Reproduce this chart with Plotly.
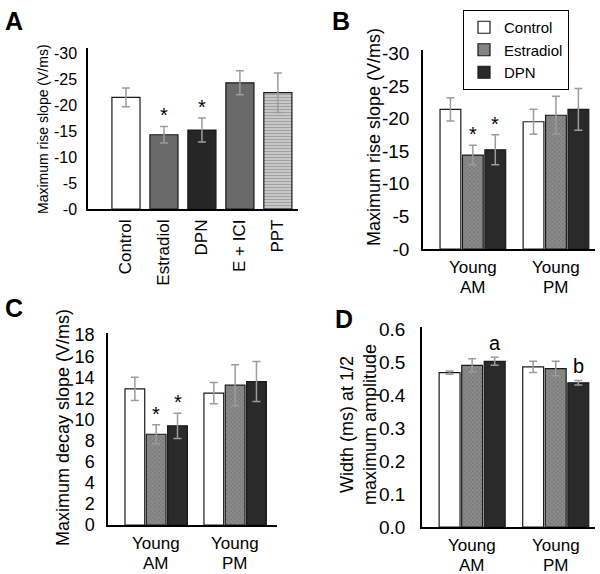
import plotly.graph_objects as go

W, H = 600, 574
FONT = "Liberation Sans, Arial, sans-serif"

# ---------------- data ----------------
# Panel A
a_cats = ["Control", "Estradiol", "DPN", "E + ICI", "PPT"]
a_vals = [-21.5, -14.3, -15.2, -24.3, -22.4]
a_errs = [1.8, 1.6, 2.3, 2.3, 3.8]
a_ticks = [0, -5, -10, -15, -20, -25, -30]
a_ticktext = ["-0", "-5", "-10", "-15", "-20", "-25", "-30"]
a_stars = ["", "*", "*", "", ""]

# Panels B-D
group_line1 = ["Young", "Young"]
group_line2 = ["AM", "PM"]
series = ["Control", "Estradiol", "DPN"]

b_vals = {"Control": [-21.4, -19.5], "Estradiol": [-14.4, -20.5], "DPN": [-15.2, -21.4]}
b_errs = {"Control": [1.8, 1.9], "Estradiol": [1.5, 2.9], "DPN": [2.3, 3.2]}
b_stars = {"Control": ["", ""], "Estradiol": ["*", ""], "DPN": ["*", ""]}
b_ticks = [0, -5, -10, -15, -20, -25, -30]
b_ticktext = ["-0", "-5", "-10", "-15", "-20", "-25", "-30"]

c_vals = {"Control": [12.9, 12.5], "Estradiol": [8.6, 13.25], "DPN": [9.4, 13.6]}
c_errs = {"Control": [1.1, 1.0], "Estradiol": [0.9, 1.95], "DPN": [1.2, 1.9]}
c_stars = {"Control": ["", ""], "Estradiol": ["*", ""], "DPN": ["*", ""]}
c_ticks = [0, 2, 4, 6, 8, 10, 12, 14, 16, 18]

d_vals = {"Control": [0.468, 0.485], "Estradiol": [0.490, 0.480], "DPN": [0.502, 0.437]}
d_errs = {"Control": [0.005, 0.017], "Estradiol": [0.020, 0.022], "DPN": [0.012, 0.007]}
d_marks = {"Control": ["", ""], "Estradiol": ["", ""], "DPN": ["a", "b"]}
d_ticks = [0.0, 0.1, 0.2, 0.3, 0.4, 0.5, 0.6]

# ---------------- styles ----------------
ERR = dict(type="data", color="#9c9c9c", thickness=1.5, width=4)
LINE = dict(color="#1a1a1a", width=1.2)

series_style = {
    "Control": dict(color="white"),
    "Estradiol": dict(color="#7a7a7a",
                      pattern=dict(shape="x", fgcolor="#5a5a5a", bgcolor="#8c8c8c",
                                   size=3, solidity=0.4)),
    "DPN": dict(color="#2a2a2a"),
}
a_styles = [
    dict(color="white"),
    dict(color="#6a6a6a"),
    dict(color="#262626"),
    dict(color="#6a6a6a"),
    dict(color="#c8c8c8", pattern=dict(shape="-", fgcolor="#707070", bgcolor="#d0d0d0",
                                       size=3, solidity=0.45)),
]


def px2x(p):
    return p / W


def px2y(p):
    return 1 - p / H


fig = go.Figure()

# ---------- Panel A ----------
a_x = list(range(len(a_cats)))
for i in range(len(a_cats)):
    fig.add_trace(go.Bar(
        x=[a_x[i]], y=[a_vals[i]], width=0.74, offset=-0.37,
        marker=dict(**a_styles[i], line=LINE),
        error_y=dict(array=[a_errs[i]], **ERR),
        xaxis="x", yaxis="y", showlegend=False))
    if a_stars[i]:
        fig.add_annotation(x=a_x[i], y=a_vals[i] - a_errs[i], xref="x", yref="y",
                           text=a_stars[i], showarrow=False, yanchor="bottom", yshift=-2,
                           font=dict(size=20, family=FONT, color="black"))

# ---------- grouped panels ----------
slot, bw = 0.27, 0.25
panels = [
    # xaxis, yaxis, values, errors, marks, legend, label font, line1 y(px), line2 y(px)
    ("x2", "y2", b_vals, b_errs, b_stars, True, 17, 267, 287),
    ("x3", "y3", c_vals, c_errs, c_stars, False, 17, 543, 563),
    ("x4", "y4", d_vals, d_errs, d_marks, False, 17, 545, 565),
]
for xa, ya, vals, errs, marks, legend, lfs, ly1, ly2 in panels:
    gx = list(range(len(group_line1)))
    for j, s in enumerate(series):
        fig.add_trace(go.Bar(
            x=gx, y=vals[s], name=s,
            width=bw, offset=(j - 1) * slot - bw / 2,
            marker=dict(**series_style[s], line=LINE),
            error_y=dict(array=errs[s], **ERR),
            xaxis=xa, yaxis=ya, showlegend=legend))
        for g in gx:
            m = marks[s][g]
            if m:
                v = vals[s][g]
                top = v - errs[s][g] if v < 0 else v + errs[s][g]
                fig.add_annotation(x=g + (j - 1) * slot, y=top, xref=xa, yref=ya,
                                   text=m, showarrow=False, yanchor="bottom",
                                   yshift=-2 if m == "*" else 1,
                                   font=dict(size=20, family=FONT, color="black"))
    # category labels (two tightly spaced lines)
    for g in gx:
        for txt, ly in ((group_line1[g], ly1), (group_line2[g], ly2)):
            fig.add_annotation(x=g, y=px2y(ly), xref=xa, yref="paper", text=txt,
                               showarrow=False, xanchor="center", yanchor="middle",
                               borderpad=0,
                               font=dict(size=lfs, family=FONT, color="black"))

axis_common = dict(showline=True, linecolor="black", linewidth=1.5, showgrid=False,
                   zeroline=False, ticks="", automargin=False)

layout = dict(
    width=W, height=H, margin=dict(l=0, r=0, t=0, b=0),
    paper_bgcolor="white", plot_bgcolor="white", barmode="overlay",
    font=dict(family=FONT, color="black"),
    # Panel A
    xaxis=dict(domain=[px2x(88), px2x(298)], range=[-1.0, 4.53], anchor="y",
               tickvals=a_x, ticktext=a_cats, tickangle=-90, ticklabelstandoff=2,
               tickfont=dict(size=17), **axis_common),
    yaxis=dict(domain=[px2y(209), px2y(48)], range=[0, -31], anchor="x",
               tickvals=a_ticks, ticktext=a_ticktext, tickfont=dict(size=16),
               ticklabelstandoff=6, **axis_common),
    # Panel B
    xaxis2=dict(domain=[px2x(423), px2x(595)], range=[-0.6, 1.47], anchor="y2",
                showticklabels=False, **axis_common),
    yaxis2=dict(domain=[px2y(249), px2y(50)], range=[0, -30.5], anchor="x2",
                tickvals=b_ticks, ticktext=b_ticktext, tickfont=dict(size=19),
                ticklabelstandoff=8, **axis_common),
    # Panel C
    xaxis3=dict(domain=[px2x(108), px2x(277)], range=[-0.61, 1.53], anchor="y3",
                showticklabels=False, **axis_common),
    yaxis3=dict(domain=[px2y(525), px2y(333)], range=[0, 18.2], anchor="x3",
                tickvals=c_ticks, tickfont=dict(size=18), ticklabelstandoff=8,
                **axis_common),
    # Panel D
    xaxis4=dict(domain=[px2x(422), px2x(595)], range=[-0.6, 1.47], anchor="y4",
                showticklabels=False, **axis_common),
    yaxis4=dict(domain=[px2y(527), px2y(327)], range=[0, 0.606], anchor="x4",
                tickvals=d_ticks, tickformat=".1f", tickfont=dict(size=19),
                ticklabelstandoff=11, **axis_common),
    legend=dict(x=px2x(463), y=px2y(10), xanchor="left", yanchor="top",
                bordercolor="black", borderwidth=1, bgcolor="white",
                font=dict(size=15, family=FONT), itemwidth=30, tracegroupgap=0),
)
fig.update_layout(**layout)

# Panel letters
for letter, x, y in [("A", 3, 5), ("B", 330, 5), ("C", 3, 292), ("D", 333, 303)]:
    fig.add_annotation(x=px2x(x), y=px2y(y), xref="paper", yref="paper",
                       text=f"<b>{letter}</b>", showarrow=False,
                       xanchor="left", yanchor="top",
                       font=dict(size=25, family=FONT, color="black"))

# Y-axis titles
for text, x, y, size in [
    ("Maximum rise slope (V/ms)", 43, 129, 14),
    ("Maximum rise slope (V/ms)", 374, 137, 18),
    ("Maximum decay slope (V/ms)", 63, 428, 18),
    ("Width (ms) at 1/2<br>maximum amplitude", 358, 425, 18),
]:
    fig.add_annotation(x=px2x(x), y=px2y(y), xref="paper", yref="paper", text=text,
                       textangle=-90, showarrow=False, xanchor="center", yanchor="middle",
                       font=dict(size=size, family=FONT, color="black"))

fig.write_html("out.html", config={"displayModeBar": False},
               post_script="document.body.style.margin='0';")
